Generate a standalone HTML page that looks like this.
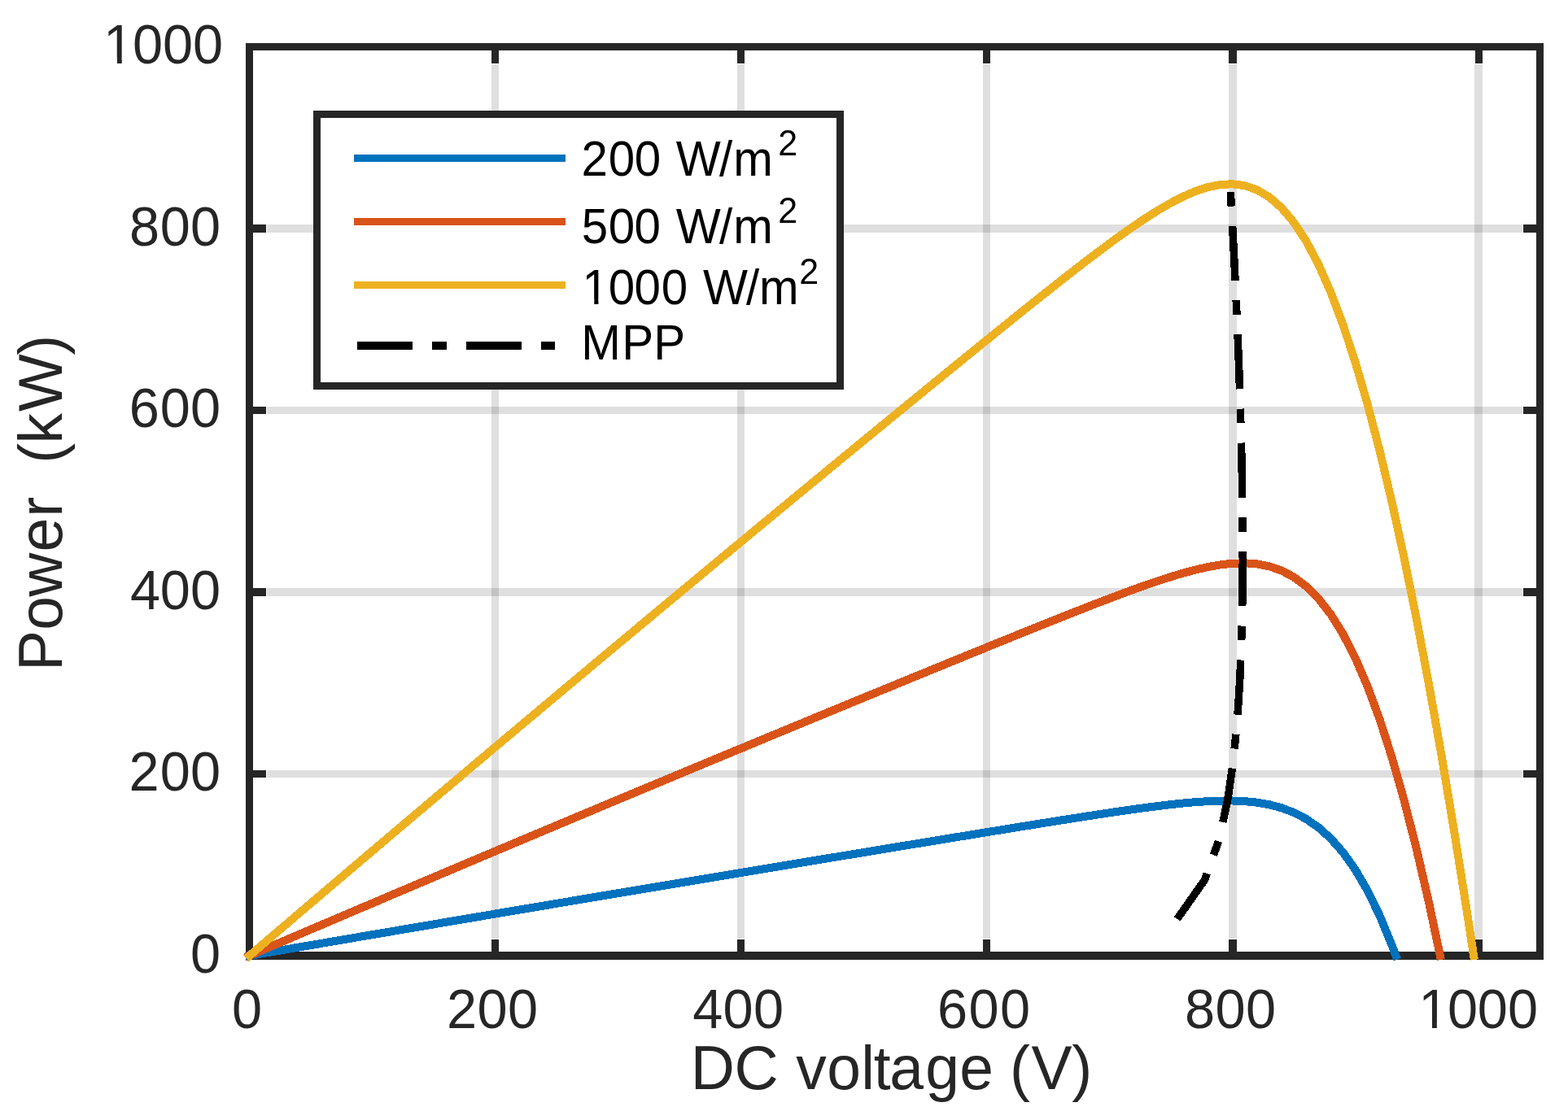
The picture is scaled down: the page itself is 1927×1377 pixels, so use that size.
<!DOCTYPE html>
<html lang="en"><head><meta charset="utf-8"><title>PV array power versus DC voltage</title>
<style>html,body{margin:0;padding:0;background:#fff}body{width:1927px;height:1377px;overflow:hidden}svg{display:block}text{font-family:"Liberation Sans",sans-serif;font-kerning:none;font-variant-ligatures:none;white-space:pre}</style>
</head><body>
<svg width="1927" height="1377" viewBox="0 0 1927 1377">
<rect x="0" y="0" width="1927" height="1377" fill="#ffffff"/>
<g fill="#262626" fill-opacity="0.15" shape-rendering="crispEdges"><rect x="604" y="79" width="9" height="1075"/><rect x="906" y="79" width="9" height="1075"/><rect x="1208" y="79" width="9" height="1075"/><rect x="1510" y="79" width="10" height="1075"/><rect x="1812" y="79" width="10" height="1075"/><rect x="328" y="947" width="1543" height="9"/><rect x="328" y="723" width="1543" height="10"/><rect x="328" y="500" width="1543" height="9"/><rect x="328" y="276" width="1543" height="10"/></g>
<g fill="#262626" shape-rendering="crispEdges"><rect x="302" y="53" width="1595" height="9"/><rect x="302" y="1170" width="1595" height="10"/><rect x="302" y="53" width="9" height="1127"/><rect x="1888" y="53" width="9" height="1127"/><rect x="604" y="62" width="9" height="16"/><rect x="604" y="1155" width="9" height="15"/><rect x="906" y="62" width="9" height="16"/><rect x="906" y="1155" width="9" height="15"/><rect x="1208" y="62" width="9" height="16"/><rect x="1208" y="1155" width="9" height="15"/><rect x="1510" y="62" width="10" height="16"/><rect x="1510" y="1155" width="10" height="15"/><rect x="1813" y="62" width="9" height="16"/><rect x="1813" y="1155" width="9" height="15"/><rect x="311" y="947" width="16" height="9"/><rect x="1872" y="947" width="16" height="9"/><rect x="311" y="723" width="16" height="10"/><rect x="1872" y="723" width="16" height="10"/><rect x="311" y="500" width="16" height="9"/><rect x="1872" y="500" width="16" height="9"/><rect x="311" y="276" width="16" height="10"/><rect x="1872" y="276" width="16" height="10"/></g>
<path d="M306.50 1175.00L321.60 1172.41L336.70 1169.82L351.80 1167.24L366.90 1164.65L382.00 1162.07L397.10 1159.49L412.20 1156.91L427.30 1154.33L442.40 1151.76L457.50 1149.19L472.60 1146.62L487.70 1144.05L502.80 1141.48L517.90 1138.92L533.00 1136.36L548.10 1133.80L563.20 1131.24L578.30 1128.68L593.40 1126.13L608.50 1123.58L623.60 1121.03L638.70 1118.48L653.80 1115.93L668.90 1113.39L684.00 1110.85L699.10 1108.31L714.20 1105.77L729.30 1103.24L744.40 1100.70L759.50 1098.17L774.60 1095.64L789.70 1093.11L804.80 1090.59L819.90 1088.06L835.00 1085.54L850.10 1083.02L865.20 1080.51L880.30 1077.99L895.40 1075.48L910.50 1072.97L925.60 1070.46L940.70 1067.95L955.80 1065.44L970.90 1062.94L986.00 1060.44L1001.10 1057.94L1016.20 1055.44L1031.30 1052.95L1046.40 1050.46L1061.50 1047.97L1076.60 1045.48L1091.70 1042.99L1106.80 1040.51L1121.90 1038.03L1137.00 1035.55L1152.10 1033.08L1167.20 1030.60L1182.30 1028.14L1197.40 1025.67L1212.50 1023.21L1227.60 1020.76L1242.70 1018.31L1257.80 1015.87L1272.90 1013.45L1288.00 1011.03L1303.10 1008.63L1318.20 1006.25L1333.30 1003.90L1348.40 1001.58L1363.50 999.30L1378.60 997.07L1393.70 994.92L1408.80 992.85L1423.90 990.91L1439.00 989.11L1454.10 987.51L1469.20 986.16L1484.30 985.14L1499.40 984.55L1514.50 984.49L1529.60 985.11L1544.70 986.62L1559.80 989.23L1574.90 993.23L1590.00 998.96L1605.10 1006.81L1620.20 1017.23L1635.30 1030.72L1650.40 1047.80L1665.50 1069.04L1680.60 1094.94L1695.70 1126.01L1710.80 1162.66L1715.40 1175.00" fill="none" stroke="#0072BD" stroke-width="10.0" stroke-linejoin="miter" stroke-linecap="square" shape-rendering="crispEdges"/>
<path d="M306.50 1175.00L321.60 1168.53L336.70 1162.07L351.80 1155.61L366.90 1149.15L382.00 1142.70L397.10 1136.26L412.20 1129.82L427.30 1123.39L442.40 1116.96L457.50 1110.54L472.60 1104.12L487.70 1097.70L502.80 1091.30L517.90 1084.89L533.00 1078.49L548.10 1072.10L563.20 1065.71L578.30 1059.33L593.40 1052.95L608.50 1046.58L623.60 1040.21L638.70 1033.85L653.80 1027.49L668.90 1021.14L684.00 1014.79L699.10 1008.45L714.20 1002.11L729.30 995.78L744.40 989.45L759.50 983.13L774.60 976.81L789.70 970.50L804.80 964.19L819.90 957.89L835.00 951.59L850.10 945.30L865.20 939.01L880.30 932.73L895.40 926.45L910.50 920.18L925.60 913.91L940.70 907.65L955.80 901.39L970.90 895.14L986.00 888.90L1001.10 882.65L1016.20 876.42L1031.30 870.19L1046.40 863.96L1061.50 857.74L1076.60 851.53L1091.70 845.32L1106.80 839.12L1121.90 832.92L1137.00 826.73L1152.10 820.55L1167.20 814.37L1182.30 808.20L1197.40 802.04L1212.50 795.90L1227.60 789.76L1242.70 783.64L1257.80 777.53L1272.90 771.45L1288.00 765.39L1303.10 759.36L1318.20 753.37L1333.30 747.43L1348.40 741.56L1363.50 735.77L1378.60 730.08L1393.70 724.52L1408.80 719.14L1423.90 713.98L1439.00 709.10L1454.10 704.59L1469.20 700.56L1484.30 697.12L1499.40 694.45L1514.50 692.75L1529.60 692.28L1544.70 693.32L1559.80 696.25L1574.90 701.48L1590.00 709.46L1605.10 720.72L1620.20 735.76L1635.30 755.12L1650.40 779.30L1665.50 808.75L1680.60 843.81L1695.70 884.79L1710.80 931.84L1725.90 985.06L1741.00 1044.46L1756.10 1109.97L1769.88 1175.00" fill="none" stroke="#D95319" stroke-width="10.0" stroke-linejoin="miter" stroke-linecap="square" shape-rendering="crispEdges"/>
<path d="M306.50 1175.00L321.60 1162.08L336.70 1149.18L351.80 1136.28L366.90 1123.40L382.00 1110.52L397.10 1097.65L412.20 1084.80L427.30 1071.95L442.40 1059.12L457.50 1046.29L472.60 1033.48L487.70 1020.67L502.80 1007.88L517.90 995.09L533.00 982.32L548.10 969.55L563.20 956.80L578.30 944.05L593.40 931.32L608.50 918.60L623.60 905.88L638.70 893.18L653.80 880.48L668.90 867.80L684.00 855.13L699.10 842.46L714.20 829.81L729.30 817.17L744.40 804.53L759.50 791.91L774.60 779.29L789.70 766.69L804.80 754.10L819.90 741.52L835.00 728.94L850.10 716.38L865.20 703.83L880.30 691.29L895.40 678.75L910.50 666.23L925.60 653.72L940.70 641.22L955.80 628.73L970.90 616.24L986.00 603.77L1001.10 591.31L1016.20 578.86L1031.30 566.42L1046.40 554.00L1061.50 541.58L1076.60 529.17L1091.70 516.78L1106.80 504.40L1121.90 492.03L1137.00 479.68L1152.10 467.34L1167.20 455.02L1182.30 442.72L1197.40 430.44L1212.50 418.18L1227.60 405.96L1242.70 393.77L1257.80 381.63L1272.90 369.54L1288.00 357.53L1303.10 345.60L1318.20 333.78L1333.30 322.10L1348.40 310.60L1363.50 299.33L1378.60 288.35L1393.70 277.75L1408.80 267.63L1423.90 258.12L1439.00 249.39L1454.10 241.64L1469.20 235.12L1484.30 230.14L1499.40 227.04L1514.50 226.23L1529.60 228.17L1544.70 233.35L1559.80 242.27L1574.90 255.44L1590.00 273.31L1605.10 296.31L1620.20 324.77L1635.30 358.94L1650.40 398.97L1665.50 444.94L1680.60 496.84L1695.70 554.61L1710.80 618.13L1725.90 687.29L1741.00 761.90L1756.10 841.81L1771.20 926.86L1786.30 1016.86L1801.40 1111.67L1811.09 1175.00" fill="none" stroke="#EDB120" stroke-width="10.0" stroke-linejoin="miter" stroke-linecap="square" shape-rendering="crispEdges"/>
<path d="M1446.77 1129.80L1480.44 1081.91L1497.84 1033.32L1508.58 984.44L1515.67 935.46L1520.46 886.52L1523.65 837.68L1525.68 789.00L1526.82 740.51L1527.27 692.26L1527.15 644.26L1526.58 596.53L1525.61 549.10L1524.32 501.97L1522.74 455.16L1520.93 408.68L1518.90 362.53L1516.68 316.73L1514.30 271.28L1511.77 226.19" fill="none" stroke="#000" stroke-width="9.5" stroke-linejoin="miter" stroke-linecap="butt" shape-rendering="crispEdges" stroke-dasharray="67.3 24.2 17.8 24.2" stroke-dashoffset="0.3"/>
<rect x="385" y="136" width="652" height="343" fill="#ffffff"/>
<g fill="#262626" shape-rendering="crispEdges"><rect x="385" y="136" width="652" height="9"/><rect x="385" y="470" width="652" height="9"/><rect x="385" y="136" width="9" height="343"/><rect x="1028" y="136" width="9" height="343"/></g>
<g shape-rendering="crispEdges"><rect x="435" y="190" width="260" height="9" fill="#0072BD"/><rect x="435" y="268" width="260" height="9" fill="#D95319"/><rect x="435" y="346" width="260" height="9" fill="#EDB120"/><rect x="439" y="420" width="68" height="10" fill="#000"/><rect x="531" y="420" width="18" height="10" fill="#000"/><rect x="573" y="420" width="68" height="10" fill="#000"/><rect x="665" y="420" width="17" height="10" fill="#000"/></g>
<defs><clipPath id="c1" clipPathUnits="userSpaceOnUse"><path clip-rule="evenodd" d="M-2000 -2000H4000V2000H-2000ZM1746.46 -6.61H1759.97V0.65H1746.46ZM1765.86 -6.61H1779.01V0.65H1765.86Z"/></clipPath><clipPath id="c2" clipPathUnits="userSpaceOnUse"><path clip-rule="evenodd" d="M-2000 -2000H4000V2000H-2000ZM130.36 -6.61H143.87V0.65H130.36ZM149.76 -6.61H162.91V0.65H149.76Z"/></clipPath><clipPath id="c3" clipPathUnits="userSpaceOnUse"><path clip-rule="evenodd" d="M-2000 -2000H4000V2000H-2000ZM718.45 -5.78H730.27V0.57H718.45ZM735.42 -5.78H746.93V0.57H735.42Z"/></clipPath></defs>
<text transform="translate(0.00,1264.00) scale(1,1.038)" x="284.96" y="0" font-size="66.67" fill="#262626">0</text>
<text transform="translate(0.00,1264.00) scale(1,1.038)" x="549.01 586.56 624.11" y="0" font-size="66.67" fill="#262626">200</text>
<text transform="translate(0.00,1264.00) scale(1,1.038)" x="851.22 888.56 925.96" y="0" font-size="66.67" fill="#262626">400</text>
<text transform="translate(0.00,1264.00) scale(1,1.038)" x="1152.13 1190.46 1229.11" y="0" font-size="66.67" fill="#262626">600</text>
<text transform="translate(0.00,1264.00) scale(1,1.038)" x="1456.06 1493.46 1530.91" y="0" font-size="66.67" fill="#262626">800</text>
<text transform="translate(0.00,1264.00) scale(1,1.038)" x="1743.20 1778.91 1815.81 1852.96" y="0" font-size="66.67" fill="#262626" clip-path="url(#c1)">1000</text>
<text transform="translate(0.00,1196.00) scale(1,1.038)" x="234.06" y="0" font-size="66.67" fill="#262626">0</text>
<text transform="translate(0.00,972.00) scale(1,1.038)" x="158.41 196.86 234.06" y="0" font-size="66.67" fill="#262626">200</text>
<text transform="translate(0.00,749.00) scale(1,1.038)" x="160.02 196.86 234.06" y="0" font-size="66.67" fill="#262626">400</text>
<text transform="translate(0.00,525.00) scale(1,1.038)" x="158.73 196.86 234.06" y="0" font-size="66.67" fill="#262626">600</text>
<text transform="translate(0.00,302.00) scale(1,1.038)" x="158.96 196.86 234.06" y="0" font-size="66.67" fill="#262626">800</text>
<text transform="translate(0.00,78.00) scale(1,1.038)" x="127.10 162.96 200.01 237.01" y="0" font-size="66.67" fill="#262626" clip-path="url(#c2)">1000</text>
<text transform="translate(0.00,1339.00) scale(1,1.012)" x="848.74 902.54 956.71 978.15 1016.29 1058.23 1073.71 1093.35 1137.14 1179.17 1220.88 1240.91 1267.49 1317.27" y="0" font-size="75" fill="#262626">DC voltage (V)</text>
<text transform="translate(76.00,825.00) rotate(-90) scale(1,1.012)" x="-0.11 50.19 91.23 146.47 189.19 214.17 235.01 255.26 279.42 319.02 388.22" y="0" font-size="75" fill="#262626">Power  (kW)</text>
<text transform="translate(0.00,216.00) scale(1,1.0407)" x="714.38 747.83 779.68 812.12 830.87 883.95 901.19" y="0" font-size="58.33" fill="#000">200 W/m<tspan x="956.19" dy="-24.02" font-size="43">2</tspan></text>
<text transform="translate(0.00,299.00) scale(1,1.0407)" x="714.79 747.83 779.63 812.07 830.87 883.95 901.19" y="0" font-size="58.33" fill="#000">500 W/m<tspan x="956.19" dy="-24.02" font-size="43">2</tspan></text>
<text transform="translate(0.00,374.00) scale(1,1.0407)" x="715.60 747.83 779.63 812.83 845.27 864.02 916.95 933.09" y="0" font-size="58.33" fill="#000" clip-path="url(#c3)">1000 W/m<tspan x="982.24" dy="-24.02" font-size="43">2</tspan></text>
<text transform="translate(0.00,442.00) scale(1,1.0407)" x="714.21 764.24 803.24" y="0" font-size="58.33" fill="#000">MPP</text>
</svg></body></html>
